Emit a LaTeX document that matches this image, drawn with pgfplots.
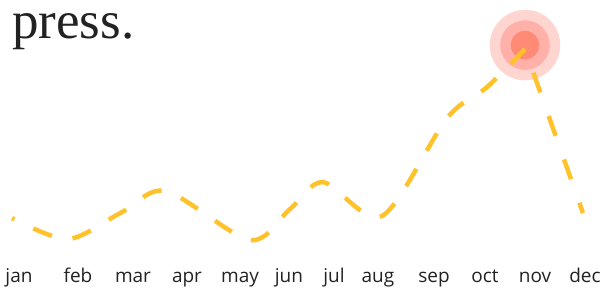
\documentclass[border=0pt]{standalone}
\usepackage{fontspec}
\usepackage{pgfplots}
\pgfplotsset{compat=1.18}
\setmainfont{Liberation Serif}
\newfontfamily\labelfont{Open Sans}
\definecolor{lineyellow}{HTML}{FFC22A}
\definecolor{ringA}{HTML}{FFD5D0}
\definecolor{ringB}{HTML}{FFB0A8}
\definecolor{ringC}{HTML}{FF8A75}
\definecolor{txt}{HTML}{222222}
\pgfplotsset{base/.style={
  width=611pt, height=287pt, scale only axis,
  xmin=0, xmax=611, ymin=0, ymax=287,
  axis line style={draw=none},
  major tick length=0pt,
  ytick=\empty,
  clip=false,
}}
\begin{document}
\begin{tikzpicture}
\begin{axis}[base, xtick=\empty]
\addplot[only marks, color=ringA, mark=*, mark size=35pt, mark options={draw=ringA, fill=ringA}] coordinates {(525,242)};
\addplot[only marks, color=ringB, mark=*, mark size=24.5pt, mark options={draw=ringB, fill=ringB}] coordinates {(525,242)};
\addplot[only marks, color=ringC, mark=*, mark size=14pt, mark options={draw=ringC, fill=ringC}] coordinates {(525,242)};
\end{axis}
\begin{axis}[base,
  xtick={19,78,133,187,240,289,334,378,434,485,535,585},
  xticklabels={jan,feb,mar,apr,may,jun,jul,aug,sep,oct,nov,dec},
  xticklabel style={font=\labelfont\fontsize{19}{19}\selectfont, text=txt, anchor=base, yshift=5pt, inner sep=0pt},
]
% jan..nov, drawn from nov backwards so that a dash starts at the peak
\addplot[smooth, color=lineyellow, line width=4.5pt, dash pattern=on 20pt off 21pt, dash phase=0pt, no marks, line cap=butt] coordinates {
(525,238) (487,200) (447,169) (382,71) (323,105) (290,78) (250,47) (166,96) (122,75) (68,48) (12,69)
};
% nov..dec, starting with a gap at the peak
\addplot[smooth, color=lineyellow, line width=4.5pt, dash pattern=on 21pt off 25pt, dash phase=21pt, no marks, line cap=butt] coordinates {
(525,238) (583,74)
};
\node[anchor=base west, inner sep=0pt, text=txt, font=\fontsize{53}{53}\selectfont] at (axis cs:12,249) {press.};
\end{axis}
\end{tikzpicture}
\end{document}
